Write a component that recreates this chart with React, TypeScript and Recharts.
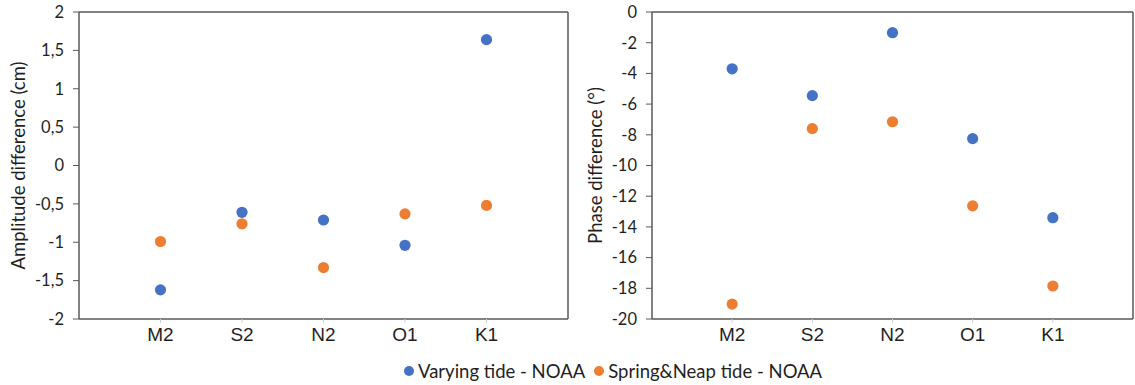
import React from 'react';
import { ScatterChart, Scatter, XAxis, YAxis, ReferenceLine } from 'recharts';

// Tidal constituents along the x axis
const categories = ['M2', 'S2', 'N2', 'O1', 'K1'];

// Amplitude difference (cm)
const ampVarying = [-1.62, -0.61, -0.71, -1.04, 1.64];
const ampSpringNeap = [-0.99, -0.76, -1.33, -0.63, -0.52];

// Phase difference (degrees)
const phaseVarying = [-3.7, -5.45, -1.35, -8.25, -13.4];
const phaseSpringNeap = [-19.03, -7.6, -7.15, -12.63, -17.85];

// Axis ticks
const ampTicks = [-2, -1.5, -1, -0.5, 0, 0.5, 1, 1.5, 2];
const phaseTicks = [-20, -18, -16, -14, -12, -10, -8, -6, -4, -2, 0];

const seriesNames = ['Varying tide - NOAA', 'Spring&Neap tide - NOAA'];
const BLUE = '#4472C4';
const ORANGE = '#ED7D31';
const AXIS = '#595959';
const TEXT = '#1f1f1f';
const FONT = 'Lato, "Open Sans", sans-serif';
const CAT_FONT = '"Liberation Sans", Arial, sans-serif';

const toPoints = (values: number[]) => values.map((y, i) => ({ x: i + 1, y }));

const dot = (color: string) => (p: any) => (
  <circle cx={p.cx} cy={p.cy} r={5.6} fill={color} />
);

const commaFmt = (v: number) => String(v).replace('.', ',');

interface PanelProps {
  width: number;
  yWidth: number;
  domain: [number, number];
  ticks: number[];
  label: string;
  labelDx: number;
  a: number[];
  b: number[];
}

const Panel = ({ width, yWidth, domain, ticks, label, labelDx, a, b }: PanelProps) => (
  <ScatterChart
    width={width}
    height={350}
    margin={{ top: 12, right: 2, bottom: 0, left: 0 }}
    style={{ fontFamily: FONT }}
  >
    <XAxis
      type="number"
      dataKey="x"
      domain={[0, 6]}
      ticks={[1, 2, 3, 4, 5]}
      tickFormatter={(v: number) => categories[v - 1] ?? ''}
      height={31}
      axisLine={{ stroke: AXIS, strokeWidth: 1.5 }}
      tickLine={{ stroke: '#d0d0d0', strokeWidth: 1 }}
      tickSize={4}
      tickMargin={5}
      tick={{ fill: TEXT, fontSize: 19, fontFamily: CAT_FONT }}
      allowDataOverflow
    />
    <YAxis
      type="number"
      dataKey="y"
      domain={domain}
      ticks={ticks}
      tickFormatter={commaFmt}
      width={yWidth}
      axisLine={{ stroke: AXIS, strokeWidth: 1.5 }}
      tickLine={{ stroke: AXIS, strokeWidth: 1 }}
      tickSize={6}
      tickMargin={9}
      tick={{ fill: TEXT, fontSize: 16.5 }}
      interval={0}
      allowDataOverflow
      label={{
        value: label,
        angle: -90,
        position: 'center',
        dx: labelDx,
        style: { fill: TEXT, fontSize: 18.5, textAnchor: 'middle' },
      }}
    />
    <ReferenceLine y={domain[1]} stroke={AXIS} strokeWidth={1.5} />
    <ReferenceLine x={6} stroke={AXIS} strokeWidth={1.5} />
    <Scatter name={seriesNames[0]} data={toPoints(a)} fill={BLUE} shape={dot(BLUE)} isAnimationActive={false} />
    <Scatter name={seriesNames[1]} data={toPoints(b)} fill={ORANGE} shape={dot(ORANGE)} isAnimationActive={false} />
  </ScatterChart>
);

const LegendItem = ({ color, text, gapAfter }: { color: string; text: string; gapAfter: number }) => (
  <span style={{ display: 'inline-flex', alignItems: 'center', marginRight: gapAfter }}>
    <span
      style={{
        width: 10,
        height: 10,
        borderRadius: '50%',
        background: color,
        display: 'inline-block',
        marginRight: 4,
      }}
    />
    {text}
  </span>
);

export default function App() {
  return (
    <div
      style={{
        position: 'absolute',
        left: 0,
        top: 0,
        width: 1135,
        height: 385,
        background: '#fff',
        overflow: 'hidden',
        fontFamily: FONT,
      }}
    >
      <div style={{ display: 'flex' }}>
        <Panel
          width={570}
          yWidth={79}
          domain={[-2, 2]}
          ticks={ampTicks}
          label="Amplitude difference (cm)"
          labelDx={-21}
          a={ampVarying}
          b={ampSpringNeap}
        />
        <Panel
          width={565}
          yWidth={82}
          domain={[-20, 0]}
          ticks={phaseTicks}
          label="Phase difference (°)"
          labelDx={-16}
          a={phaseVarying}
          b={phaseSpringNeap}
        />
      </div>
      <div
        style={{
          position: 'absolute',
          top: 360,
          left: 404,
          whiteSpace: 'nowrap',
          fontSize: 18.5,
          color: TEXT,
          lineHeight: '22px',
          display: 'flex',
        }}
      >
        <LegendItem color={BLUE} text={seriesNames[0]} gapAfter={9} />
        <LegendItem color={ORANGE} text={seriesNames[1]} gapAfter={0} />
      </div>
    </div>
  );
}
